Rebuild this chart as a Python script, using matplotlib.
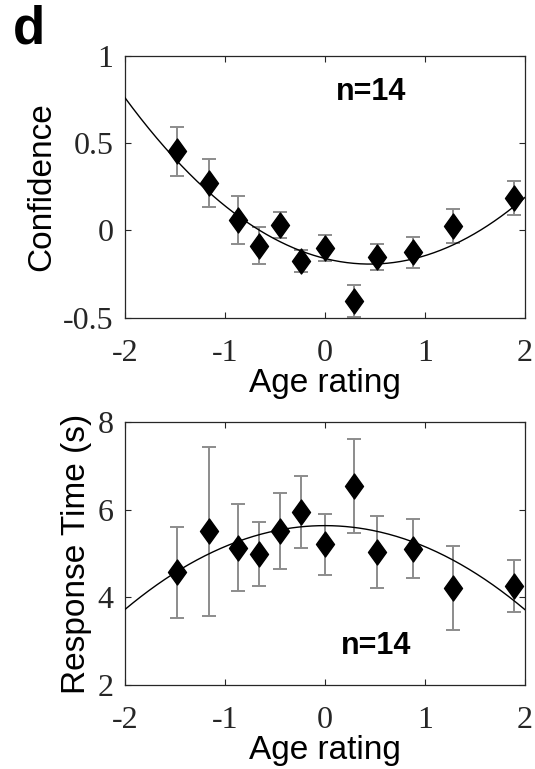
import numpy as np
import matplotlib
matplotlib.use("Agg")
import matplotlib.pyplot as plt
from matplotlib.path import Path

# ---------------- data ----------------
age_x = [-1.48, -1.157, -0.87, -0.657, -0.45, -0.24, 0.0, 0.287, 0.52, 0.877, 1.277, 1.893]

conf_y = [0.454, 0.273, 0.057, -0.088, 0.029, -0.174, -0.101, -0.405, -0.151, -0.126, 0.025, 0.185]
conf_err = [0.14, 0.137, 0.137, 0.107, 0.075, 0.062, 0.072, 0.09, 0.075, 0.087, 0.096, 0.095]

rt_y = [4.573, 5.517, 5.136, 4.992, 5.517, 5.944, 5.212, 6.538, 5.03, 5.114, 4.222, 4.26]
rt_err = [1.04, 1.93, 1.0, 0.73, 0.87, 0.82, 0.69, 1.07, 0.82, 0.68, 0.96, 0.59]

# quadratic fit curves (coefficients: a, h, k for a*(x-h)^2 + k)
conf_fit = [0.159, 0.45, -0.193]
rt_fit = [-0.48, 0.0, 5.64]

xticks = [-2, -1, 0, 1, 2]
conf_ticks = [-0.5, 0, 0.5, 1]
rt_ticks = [2, 4, 6, 8]
conf_ticklabels = ["-0.5", "0", "0.5", "1"]
rt_ticklabels = ["2", "4", "6", "8"]

# ---------------- style ----------------
W, H = 535, 769
fig = plt.figure(figsize=(W / 100, H / 100), dpi=100)

serif = ["Liberation Serif", "DejaVu Serif"]
sans = ["Liberation Sans", "DejaVu Sans"]
axcol = "#262626"
errcol = "#8c8c8c"

diamond = Path([(0, 1), (0.72, 0), (0, -1), (-0.72, 0), (0, 1)],
               [Path.MOVETO, Path.LINETO, Path.LINETO, Path.LINETO, Path.CLOSEPOLY])


def panel(rect, y, err, fit, yticks, yticklabels, ylim, ylabel, ntext_xy):
    ax = fig.add_axes(rect)
    ax.errorbar(age_x, y, yerr=err, fmt="none", ecolor=errcol, elinewidth=1.4,
                capsize=4.8, capthick=1.4, zorder=2, clip_on=False)
    xs = np.linspace(-2, 2, 300)
    a, h, k = fit
    ax.plot(xs, a * (xs - h) ** 2 + k, color="black", lw=1.0, zorder=3)
    ax.plot(age_x, y, linestyle="none", marker=diamond, markersize=18,
            color="black", zorder=4, clip_on=False)
    ax.set_xlim(-2, 2)
    ax.set_ylim(*ylim)
    ax.set_xticks(xticks)
    ax.set_xticklabels([str(t) for t in xticks], fontfamily=serif, fontsize=23)
    ax.set_yticks(yticks)
    ax.set_yticklabels(yticklabels, fontfamily=serif, fontsize=23)
    ax.tick_params(axis="both", direction="in", length=4, width=0.8, colors=axcol,
                   top=True, right=True)
    ax.tick_params(axis="x", pad=15)
    ax.tick_params(axis="y", pad=8)
    for sp in ax.spines.values():
        sp.set_color(axcol)
        sp.set_linewidth(0.9)
    ax.set_xlabel("Age rating", fontfamily=sans, fontsize=24, labelpad=0)
    ax.set_ylabel(ylabel, fontfamily=sans, fontsize=24, labelpad=4)
    ax.text(ntext_xy[0], ntext_xy[1], "n=14", fontfamily=sans, fontsize=22,
            fontweight="bold", ha="center", va="center")
    return ax


ax1 = panel([124.7 / W, 1 - 317.7 / H, 400.3 / W, 262 / H], conf_y, conf_err, conf_fit,
            conf_ticks, conf_ticklabels, (-0.5, 1), "Confidence", (0.46, 0.79))
ax2 = panel([124.7 / W, 1 - 685 / H, 400.3 / W, 262.7 / H], rt_y, rt_err, rt_fit,
            rt_ticks, rt_ticklabels, (2, 8), "Response Time (s)", (0.51, 2.88))

fig.text(13 / W, 1 - 29 / H, "d", fontfamily=sans, fontsize=38, fontweight="bold",
         ha="left", va="center")

fig.savefig("out.png", dpi=100)
